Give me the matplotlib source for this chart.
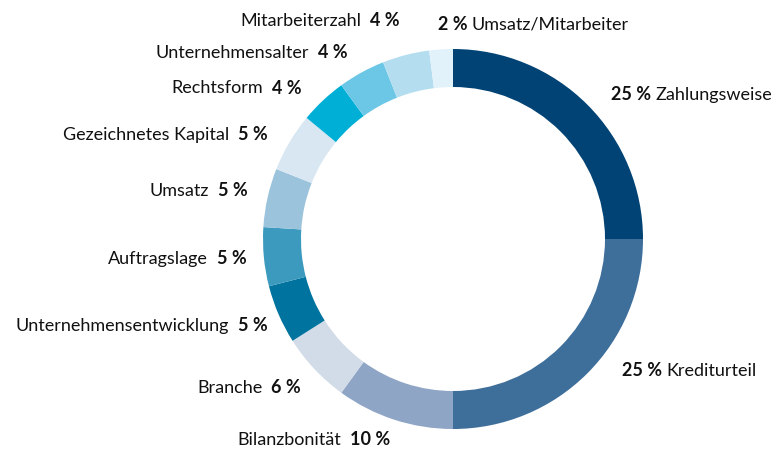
import matplotlib
import matplotlib.pyplot as plt

matplotlib.use("Agg")

# Anteile der Kriterien am Rating (im Uhrzeigersinn ab 12 Uhr)
categories = [
    "Zahlungsweise", "Krediturteil", "Bilanzbonität", "Branche",
    "Unternehmensentwicklung", "Auftragslage", "Umsatz",
    "Gezeichnetes Kapital", "Rechtsform", "Unternehmensalter",
    "Mitarbeiterzahl", "Umsatz/Mitarbeiter",
]
shares = [25, 25, 10, 6, 5, 5, 5, 5, 4, 4, 4, 2]

colors = [
    "#004374", "#3e6e9a", "#8fa5c5", "#d2dbe8", "#00739e", "#3b9abd",
    "#9bc3dc", "#d8e7f2", "#00afd6", "#6cc7e6", "#b4def0", "#e2f2fa",
]

# label anchor (x, y in pixels), side: "r" = percent first, text right of it
label_pos = [
    (611, 95, "r"), (622, 371, "r"), (390, 440, "l"), (301, 388, "l"),
    (268, 326, "l"), (247, 259, "l"), (248, 191, "l"), (268, 135, "l"),
    (302, 88, "l"), (348, 53, "l"), (400, 21, "l"), (438, 24, "r"),
]

W, H = 778, 452
fig = plt.figure(figsize=(W / 100, H / 100), dpi=100)
ax = fig.add_axes([0, 0, 1, 1])

# y axis is flipped below, so counterclock=True runs clockwise on screen
ax.pie(
    shares,
    colors=colors,
    startangle=270,
    counterclock=True,
    center=(453, 240),
    radius=190,
    wedgeprops=dict(width=38, linewidth=0),
)
ax.set_xlim(0, W)
ax.set_ylim(H, 0)
ax.set_aspect("equal")
ax.axis("off")

font = ["Lato", "DejaVu Sans"]
fs = 13
renderer = fig.canvas.get_renderer()

for name, val, (x, y, side) in zip(categories, shares, label_pos):
    pct = f"{val} %"
    if side == "r":
        t = ax.text(x, y, pct, ha="left", va="center", fontsize=fs,
                    fontweight="bold", family=font, color="#111111")
        w = t.get_window_extent(renderer).width
        ax.text(x + w + 4, y, name, ha="left", va="center", fontsize=fs,
                family=font, color="#111111")
    else:
        t = ax.text(x, y, pct, ha="right", va="center", fontsize=fs,
                    fontweight="bold", family=font, color="#111111")
        w = t.get_window_extent(renderer).width
        ax.text(x - w - 9, y, name, ha="right", va="center", fontsize=fs,
                family=font, color="#111111")

fig.savefig("out.png", dpi=100, facecolor="white")
